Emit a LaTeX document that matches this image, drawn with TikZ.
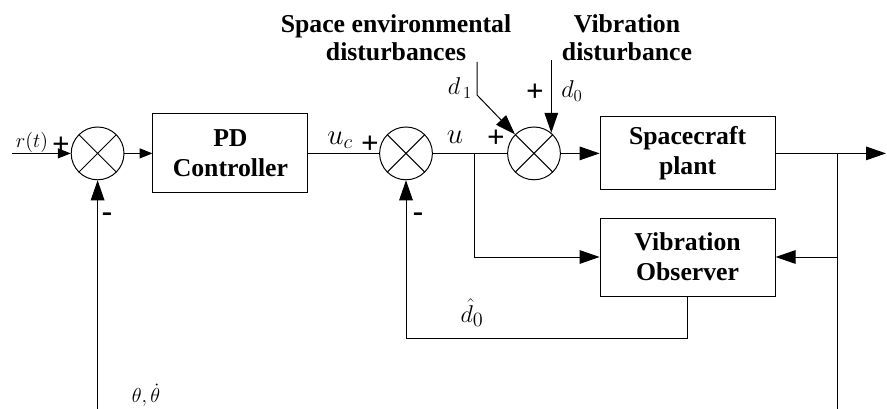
\documentclass[tikz,border=0pt]{standalone}
\usepackage{fontspec}
\setmainfont{Liberation Serif}
\usetikzlibrary{positioning, arrows.meta, calc}

\begin{document}
\begin{tikzpicture}[
    % ── node styles ─────────────────────────────────────────
    block/.style = { draw, line width=0.7pt, minimum width=4.375cm,
            minimum height=1.9cm, align=center, inner sep=0pt,
            font=\fontsize{18.3}{21.3}\selectfont\bfseries, },
    summer/.style = { draw, circle, line width=0.7pt, minimum size=1.32cm,
            inner sep=0pt, path picture={
                \draw[line width=0.7pt]
                (path picture bounding box.north west) -- (path picture bounding box.south east)
                (path picture bounding box.north east) -- (path picture bounding box.south west);
            }, },
    wire/.style = {line width=0.7pt},
    arr/.style = {wire, -{Triangle[length=0.5cm, width=0.34cm]}},
    smallarr/.style = {wire, -{Triangle[length=0.32cm, width=0.25cm]}},
    caption/.style = {align=center, inner sep=0pt,
            font=\fontsize{18.3}{19.9}\selectfont\bfseries},
    sign/.style = {inner sep=0pt, font=\fontsize{22}{22}\selectfont\bfseries},
    sym/.style = {inner sep=0pt, font=\fontsize{18}{18}\selectfont},
    ]

    \useasboundingbox (0,0) rectangle (22.175,10.225);

    % ============================================================
    % MAIN ROW — summers and blocks
    % ============================================================
    \node[summer] (sum1) at (2.44,6.39) {};

    \node[block, minimum width=3.875cm, minimum height=1.975cm]
    (pd) at (5.76,6.39)
    {PD\\Controller};

    \node[summer] (sum2) at (10.15,6.39) {};
    \node[summer] (sum3) at (13.35,6.39) {};

    \node[block, minimum height=1.825cm]
    (plant) at (17.19,6.39)
    {Spacecraft\\plant};

    % ============================================================
    % OBSERVER ROW
    % ============================================================
    \node[block, minimum height=1.95cm]
    (obs) at (17.19,3.8)
    {Vibration\\Observer};

    % ============================================================
    % HELPER COORDINATES
    % ============================================================
    \coordinate (in) at (0.3,6.39);
    \coordinate (u-tap) at (11.85,6.39);
    \coordinate (y-tap) at (20.925,6.39);
    \coordinate (out) at (22.15,6.39);
    \coordinate (d1-top) at (11.925,8.675);
    \coordinate (d1-bend) at (11.925,7.85);
    \coordinate (d0-top) at (sum3.50 |- 0,8.725);

    % ============================================================
    % SIGNALS
    % ============================================================
    \draw[smallarr] (in) -- (sum1.west);
    \draw[smallarr] (sum1.east) -- (pd.west);
    \draw[wire] (pd.east) -- (sum2.west);
    \draw[wire] (sum2.east) -- (sum3.west);
    \draw[arr] (sum3.east) -- (plant.west);
    \draw[arr] (plant.east) -- (out);

    % disturbances
    \draw[arr] (d1-top) -- (d1-bend) -- (sum3.north west);
    \draw[arr] (d0-top) -- (sum3.50);

    % observer loop
    \draw[arr] (u-tap) |- (obs.west);
    \draw[arr] (y-tap) |- (obs.east);
    \draw[arr] (obs.south) -- ++(0,-1.05) -| (sum2.south);

    % outer feedback (cut at the lower edge)
    \draw[wire] (y-tap) -- (y-tap |- 0,0);
    \draw[arr] (sum1.south |- 0,0) -- (sum1.south);

    % ============================================================
    % LABELS
    % ============================================================
    \node[caption, anchor=north] (cap-space) at (9.9,9.875)
    {Space environmental\\disturbances};
    \node[caption, anchor=north] (cap-vib) at (15.675,9.875)
    {Vibration\\disturbance};

    \node[sym, anchor=south, font=\fontsize{14.4}{14.4}\selectfont] (lbl-r) at (0.8,6.4) {$r(t)$};
    \node[sym, font=\fontsize{19.5}{19.5}\selectfont] (lbl-uc) at (8.5,6.725) {$u_c$};
    \node[sym, font=\fontsize{22}{22}\selectfont] (lbl-u) at (11.375,6.8) {$u$};
    \node[sym] (lbl-d1) at (11.5,8.025) {$d_{\,1}$};
    \node[sym] (lbl-d0) at (14.3,7.95) {$d_0$};
    \node[sym, font=\fontsize{19}{19}\selectfont] (lbl-dhat) at (11.8,2.4) {$\hat{d}_0$};
    \node[sym, font=\fontsize{15}{15}\selectfont] (lbl-theta) at (3.65,0.35) {$\theta,\dot{\theta}$};

    \node[sign] (plus-r) at (1.525,6.575) {+};
    \node[sign] (minus-1) at (2.675,4.8) {-};
    \node[sign] (plus-uc) at (9.25,6.6) {+};
    \node[sign] (minus-2) at (10.45,4.8) {-};
    \node[sign] (plus-u) at (12.4,6.75) {+};
    \node[sign] (plus-d0) at (13.375,7.9) {+};

\end{tikzpicture}
\end{document}
